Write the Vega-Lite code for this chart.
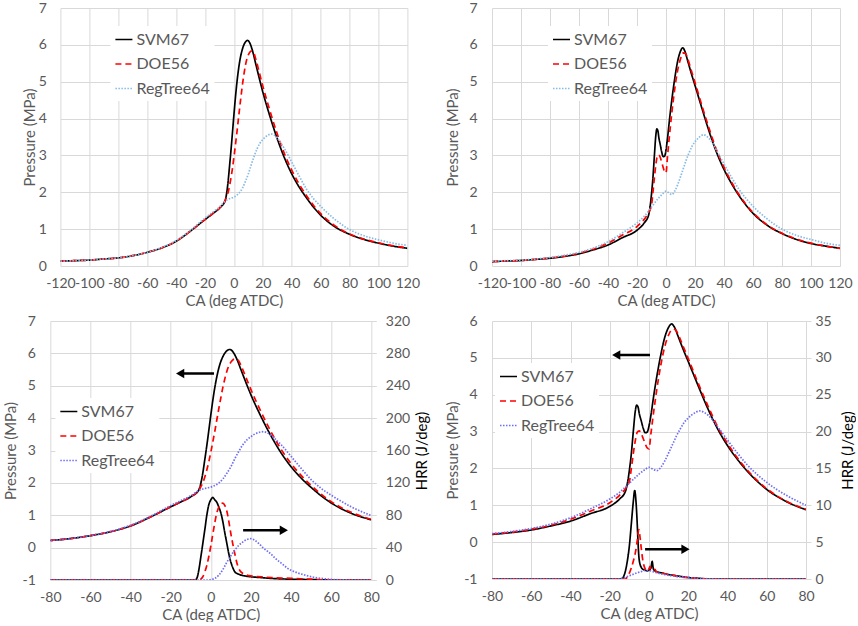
{
 "$schema": "https://vega.github.io/schema/vega-lite/v6.json",
 "padding": {"left": 3, "top": 1, "right": 0, "bottom": 0},
 "background": "white",
 "config": {
  "font": "Lato",
  "view": {"stroke": null},
  "axis": {"labelFontSize": 14, "titleFontSize": 15, "labelColor": "#595959", "titleColor": "#595959", "gridColor": "#d9d9d9", "gridWidth": 1, "domain": false, "ticks": false, "titleFontWeight": "normal", "labelFlush": false, "labelOverlap": false, "labelFont": "Lato", "titleFont": "Lato"},
  "legend": {"labelFontSize": 16, "labelColor": "#595959", "labelFont": "Lato", "symbolType": "stroke", "symbolSize": 289, "fillColor": "white", "padding": 4, "rowPadding": 6.5, "labelOffset": 3}
 },
 "datasets": {
  "pressA": [
   {"ca":-120,"model":"SVM67","p":0.13},{"ca":-110,"model":"SVM67","p":0.145},{"ca":-100,"model":"SVM67","p":0.16},{"ca":-90,"model":"SVM67","p":0.19},{"ca":-80,"model":"SVM67","p":0.22},{"ca":-70,"model":"SVM67","p":0.28},{"ca":-60,"model":"SVM67","p":0.37},{"ca":-50,"model":"SVM67","p":0.49},{"ca":-40,"model":"SVM67","p":0.67},{"ca":-30,"model":"SVM67","p":0.95},{"ca":-20,"model":"SVM67","p":1.26},{"ca":-15,"model":"SVM67","p":1.41},{"ca":-10,"model":"SVM67","p":1.57},{"ca":-6,"model":"SVM67","p":1.78},{"ca":-5,"model":"SVM67","p":1.98},{"ca":-4,"model":"SVM67","p":2.3},{"ca":-3,"model":"SVM67","p":2.72},{"ca":-2,"model":"SVM67","p":3.15},{"ca":-1,"model":"SVM67","p":3.62},{"ca":0,"model":"SVM67","p":4.1},{"ca":1,"model":"SVM67","p":4.55},{"ca":2,"model":"SVM67","p":4.95},{"ca":3,"model":"SVM67","p":5.28},{"ca":4,"model":"SVM67","p":5.55},{"ca":6,"model":"SVM67","p":5.9},{"ca":8,"model":"SVM67","p":6.08},{"ca":9.5,"model":"SVM67","p":6.12},{"ca":11,"model":"SVM67","p":6.05},{"ca":13,"model":"SVM67","p":5.82},{"ca":15,"model":"SVM67","p":5.5},{"ca":17.5,"model":"SVM67","p":5.1},{"ca":20,"model":"SVM67","p":4.72},{"ca":25,"model":"SVM67","p":4.05},{"ca":30,"model":"SVM67","p":3.45},{"ca":35,"model":"SVM67","p":2.93},{"ca":40,"model":"SVM67","p":2.5},{"ca":45,"model":"SVM67","p":2.15},{"ca":50,"model":"SVM67","p":1.86},{"ca":55,"model":"SVM67","p":1.6},{"ca":60,"model":"SVM67","p":1.38},{"ca":70,"model":"SVM67","p":1.06},{"ca":80,"model":"SVM67","p":0.86},{"ca":90,"model":"SVM67","p":0.72},{"ca":100,"model":"SVM67","p":0.62},{"ca":110,"model":"SVM67","p":0.54},{"ca":120,"model":"SVM67","p":0.48},
   {"ca":-120,"model":"DOE56","p":0.13},{"ca":-110,"model":"DOE56","p":0.145},{"ca":-100,"model":"DOE56","p":0.16},{"ca":-90,"model":"DOE56","p":0.19},{"ca":-80,"model":"DOE56","p":0.22},{"ca":-70,"model":"DOE56","p":0.28},{"ca":-60,"model":"DOE56","p":0.37},{"ca":-50,"model":"DOE56","p":0.49},{"ca":-40,"model":"DOE56","p":0.67},{"ca":-30,"model":"DOE56","p":0.95},{"ca":-20,"model":"DOE56","p":1.26},{"ca":-15,"model":"DOE56","p":1.41},{"ca":-10,"model":"DOE56","p":1.57},{"ca":-6,"model":"DOE56","p":1.78},{"ca":-5,"model":"DOE56","p":1.88},{"ca":-4,"model":"DOE56","p":2.0},{"ca":-3,"model":"DOE56","p":2.18},{"ca":-2,"model":"DOE56","p":2.4},{"ca":-1,"model":"DOE56","p":2.65},{"ca":0,"model":"DOE56","p":2.95},{"ca":1,"model":"DOE56","p":3.27},{"ca":2,"model":"DOE56","p":3.6},{"ca":3,"model":"DOE56","p":3.95},{"ca":4,"model":"DOE56","p":4.3},{"ca":5,"model":"DOE56","p":4.63},{"ca":6,"model":"DOE56","p":4.95},{"ca":7,"model":"DOE56","p":5.22},{"ca":8,"model":"DOE56","p":5.45},{"ca":9,"model":"DOE56","p":5.62},{"ca":10,"model":"DOE56","p":5.73},{"ca":11,"model":"DOE56","p":5.8},{"ca":12,"model":"DOE56","p":5.83},{"ca":13.5,"model":"DOE56","p":5.8},{"ca":15,"model":"DOE56","p":5.63},{"ca":17.5,"model":"DOE56","p":5.26},{"ca":20,"model":"DOE56","p":4.88},{"ca":25,"model":"DOE56","p":4.2},{"ca":30,"model":"DOE56","p":3.58},{"ca":35,"model":"DOE56","p":3.04},{"ca":40,"model":"DOE56","p":2.6},{"ca":45,"model":"DOE56","p":2.23},{"ca":50,"model":"DOE56","p":1.92},{"ca":55,"model":"DOE56","p":1.65},{"ca":60,"model":"DOE56","p":1.42},{"ca":70,"model":"DOE56","p":1.09},{"ca":80,"model":"DOE56","p":0.87},{"ca":90,"model":"DOE56","p":0.73},{"ca":100,"model":"DOE56","p":0.63},{"ca":110,"model":"DOE56","p":0.55},{"ca":120,"model":"DOE56","p":0.49},
   {"ca":-120,"model":"RegTree64","p":0.13},{"ca":-110,"model":"RegTree64","p":0.145},{"ca":-100,"model":"RegTree64","p":0.16},{"ca":-90,"model":"RegTree64","p":0.19},{"ca":-80,"model":"RegTree64","p":0.22},{"ca":-70,"model":"RegTree64","p":0.28},{"ca":-60,"model":"RegTree64","p":0.37},{"ca":-50,"model":"RegTree64","p":0.5},{"ca":-40,"model":"RegTree64","p":0.69},{"ca":-30,"model":"RegTree64","p":0.97},{"ca":-20,"model":"RegTree64","p":1.3},{"ca":-15,"model":"RegTree64","p":1.45},{"ca":-10,"model":"RegTree64","p":1.6},{"ca":-6,"model":"RegTree64","p":1.76},{"ca":-4,"model":"RegTree64","p":1.81},{"ca":-2,"model":"RegTree64","p":1.84},{"ca":0,"model":"RegTree64","p":1.87},{"ca":2,"model":"RegTree64","p":1.92},{"ca":4,"model":"RegTree64","p":2.0},{"ca":6,"model":"RegTree64","p":2.12},{"ca":8,"model":"RegTree64","p":2.3},{"ca":10,"model":"RegTree64","p":2.5},{"ca":12,"model":"RegTree64","p":2.75},{"ca":14,"model":"RegTree64","p":2.98},{"ca":16,"model":"RegTree64","p":3.18},{"ca":18,"model":"RegTree64","p":3.33},{"ca":20,"model":"RegTree64","p":3.43},{"ca":22,"model":"RegTree64","p":3.51},{"ca":24,"model":"RegTree64","p":3.56},{"ca":26,"model":"RegTree64","p":3.58},{"ca":28,"model":"RegTree64","p":3.55},{"ca":30,"model":"RegTree64","p":3.47},{"ca":32,"model":"RegTree64","p":3.36},{"ca":35,"model":"RegTree64","p":3.18},{"ca":40,"model":"RegTree64","p":2.82},{"ca":45,"model":"RegTree64","p":2.45},{"ca":50,"model":"RegTree64","p":2.1},{"ca":55,"model":"RegTree64","p":1.83},{"ca":60,"model":"RegTree64","p":1.62},{"ca":70,"model":"RegTree64","p":1.26},{"ca":80,"model":"RegTree64","p":0.99},{"ca":90,"model":"RegTree64","p":0.82},{"ca":100,"model":"RegTree64","p":0.71},{"ca":110,"model":"RegTree64","p":0.62},{"ca":120,"model":"RegTree64","p":0.56}
  ],
  "pressB": [
   {"ca":-120,"model":"SVM67","p":0.12},{"ca":-110,"model":"SVM67","p":0.135},{"ca":-100,"model":"SVM67","p":0.15},{"ca":-90,"model":"SVM67","p":0.18},{"ca":-80,"model":"SVM67","p":0.21},{"ca":-70,"model":"SVM67","p":0.26},{"ca":-60,"model":"SVM67","p":0.33},{"ca":-50,"model":"SVM67","p":0.44},{"ca":-40,"model":"SVM67","p":0.57},{"ca":-30,"model":"SVM67","p":0.77},{"ca":-20,"model":"SVM67","p":0.97},{"ca":-15,"model":"SVM67","p":1.17},{"ca":-12,"model":"SVM67","p":1.38},{"ca":-11,"model":"SVM67","p":1.6},{"ca":-10,"model":"SVM67","p":1.95},{"ca":-9,"model":"SVM67","p":2.4},{"ca":-8,"model":"SVM67","p":3.0},{"ca":-7,"model":"SVM67","p":3.55},{"ca":-6.3,"model":"SVM67","p":3.72},{"ca":-5.5,"model":"SVM67","p":3.65},{"ca":-5,"model":"SVM67","p":3.5},{"ca":-4,"model":"SVM67","p":3.3},{"ca":-3,"model":"SVM67","p":3.1},{"ca":-2,"model":"SVM67","p":2.97},{"ca":-1,"model":"SVM67","p":2.98},{"ca":0,"model":"SVM67","p":3.15},{"ca":1,"model":"SVM67","p":3.45},{"ca":2,"model":"SVM67","p":3.82},{"ca":3,"model":"SVM67","p":4.18},{"ca":4,"model":"SVM67","p":4.5},{"ca":6,"model":"SVM67","p":5.08},{"ca":8,"model":"SVM67","p":5.55},{"ca":10,"model":"SVM67","p":5.83},{"ca":11.5,"model":"SVM67","p":5.92},{"ca":13,"model":"SVM67","p":5.83},{"ca":15,"model":"SVM67","p":5.56},{"ca":17.5,"model":"SVM67","p":5.22},{"ca":20,"model":"SVM67","p":4.9},{"ca":25,"model":"SVM67","p":4.25},{"ca":30,"model":"SVM67","p":3.62},{"ca":35,"model":"SVM67","p":3.07},{"ca":40,"model":"SVM67","p":2.62},{"ca":45,"model":"SVM67","p":2.25},{"ca":50,"model":"SVM67","p":1.93},{"ca":55,"model":"SVM67","p":1.66},{"ca":60,"model":"SVM67","p":1.43},{"ca":70,"model":"SVM67","p":1.1},{"ca":80,"model":"SVM67","p":0.88},{"ca":90,"model":"SVM67","p":0.72},{"ca":100,"model":"SVM67","p":0.61},{"ca":110,"model":"SVM67","p":0.54},{"ca":120,"model":"SVM67","p":0.48},
   {"ca":-120,"model":"DOE56","p":0.12},{"ca":-110,"model":"DOE56","p":0.135},{"ca":-100,"model":"DOE56","p":0.15},{"ca":-90,"model":"DOE56","p":0.18},{"ca":-80,"model":"DOE56","p":0.22},{"ca":-70,"model":"DOE56","p":0.27},{"ca":-60,"model":"DOE56","p":0.35},{"ca":-50,"model":"DOE56","p":0.46},{"ca":-40,"model":"DOE56","p":0.62},{"ca":-30,"model":"DOE56","p":0.84},{"ca":-20,"model":"DOE56","p":1.07},{"ca":-15,"model":"DOE56","p":1.27},{"ca":-12,"model":"DOE56","p":1.45},{"ca":-10,"model":"DOE56","p":1.65},{"ca":-9,"model":"DOE56","p":2.0},{"ca":-8,"model":"DOE56","p":2.4},{"ca":-7,"model":"DOE56","p":2.75},{"ca":-6,"model":"DOE56","p":2.98},{"ca":-5,"model":"DOE56","p":3.02},{"ca":-4,"model":"DOE56","p":2.95},{"ca":-3,"model":"DOE56","p":2.82},{"ca":-2,"model":"DOE56","p":2.68},{"ca":-1,"model":"DOE56","p":2.56},{"ca":0,"model":"DOE56","p":2.53},{"ca":1,"model":"DOE56","p":2.95},{"ca":2,"model":"DOE56","p":3.38},{"ca":3,"model":"DOE56","p":3.78},{"ca":4,"model":"DOE56","p":4.15},{"ca":6,"model":"DOE56","p":4.8},{"ca":8,"model":"DOE56","p":5.3},{"ca":10,"model":"DOE56","p":5.62},{"ca":12,"model":"DOE56","p":5.78},{"ca":13.5,"model":"DOE56","p":5.76},{"ca":15,"model":"DOE56","p":5.62},{"ca":17.5,"model":"DOE56","p":5.3},{"ca":20,"model":"DOE56","p":4.98},{"ca":25,"model":"DOE56","p":4.32},{"ca":30,"model":"DOE56","p":3.7},{"ca":35,"model":"DOE56","p":3.13},{"ca":40,"model":"DOE56","p":2.68},{"ca":45,"model":"DOE56","p":2.29},{"ca":50,"model":"DOE56","p":1.96},{"ca":55,"model":"DOE56","p":1.68},{"ca":60,"model":"DOE56","p":1.45},{"ca":70,"model":"DOE56","p":1.11},{"ca":80,"model":"DOE56","p":0.89},{"ca":90,"model":"DOE56","p":0.73},{"ca":100,"model":"DOE56","p":0.62},{"ca":110,"model":"DOE56","p":0.54},{"ca":120,"model":"DOE56","p":0.48},
   {"ca":-120,"model":"RegTree64","p":0.13},{"ca":-110,"model":"RegTree64","p":0.145},{"ca":-100,"model":"RegTree64","p":0.16},{"ca":-90,"model":"RegTree64","p":0.19},{"ca":-80,"model":"RegTree64","p":0.23},{"ca":-70,"model":"RegTree64","p":0.29},{"ca":-60,"model":"RegTree64","p":0.37},{"ca":-50,"model":"RegTree64","p":0.49},{"ca":-40,"model":"RegTree64","p":0.66},{"ca":-30,"model":"RegTree64","p":0.9},{"ca":-20,"model":"RegTree64","p":1.17},{"ca":-15,"model":"RegTree64","p":1.35},{"ca":-10,"model":"RegTree64","p":1.6},{"ca":-5,"model":"RegTree64","p":1.85},{"ca":-2,"model":"RegTree64","p":1.97},{"ca":0,"model":"RegTree64","p":2.03},{"ca":2,"model":"RegTree64","p":1.98},{"ca":4,"model":"RegTree64","p":1.94},{"ca":6,"model":"RegTree64","p":2.03},{"ca":8,"model":"RegTree64","p":2.2},{"ca":10,"model":"RegTree64","p":2.42},{"ca":12,"model":"RegTree64","p":2.65},{"ca":14,"model":"RegTree64","p":2.88},{"ca":16,"model":"RegTree64","p":3.08},{"ca":18,"model":"RegTree64","p":3.25},{"ca":20,"model":"RegTree64","p":3.37},{"ca":22,"model":"RegTree64","p":3.46},{"ca":24,"model":"RegTree64","p":3.53},{"ca":26,"model":"RegTree64","p":3.56},{"ca":28,"model":"RegTree64","p":3.52},{"ca":30,"model":"RegTree64","p":3.45},{"ca":32,"model":"RegTree64","p":3.34},{"ca":35,"model":"RegTree64","p":3.13},{"ca":40,"model":"RegTree64","p":2.77},{"ca":45,"model":"RegTree64","p":2.42},{"ca":50,"model":"RegTree64","p":2.1},{"ca":55,"model":"RegTree64","p":1.84},{"ca":60,"model":"RegTree64","p":1.62},{"ca":70,"model":"RegTree64","p":1.27},{"ca":80,"model":"RegTree64","p":1.0},{"ca":90,"model":"RegTree64","p":0.83},{"ca":100,"model":"RegTree64","p":0.72},{"ca":110,"model":"RegTree64","p":0.62},{"ca":120,"model":"RegTree64","p":0.56}
  ],
  "hrrA": [
   {"ca":-80,"model":"SVM67","hrr":0},{"ca":-8,"model":"SVM67","hrr":0},{"ca":-7,"model":"SVM67","hrr":2},{"ca":-6,"model":"SVM67","hrr":12},{"ca":-5,"model":"SVM67","hrr":28},{"ca":-4,"model":"SVM67","hrr":45},{"ca":-3,"model":"SVM67","hrr":62},{"ca":-2,"model":"SVM67","hrr":80},{"ca":-1,"model":"SVM67","hrr":93},{"ca":0,"model":"SVM67","hrr":99},{"ca":1,"model":"SVM67","hrr":102},{"ca":2,"model":"SVM67","hrr":99},{"ca":3,"model":"SVM67","hrr":96},{"ca":4,"model":"SVM67","hrr":90},{"ca":5,"model":"SVM67","hrr":83},{"ca":6,"model":"SVM67","hrr":72},{"ca":7,"model":"SVM67","hrr":58},{"ca":8,"model":"SVM67","hrr":45},{"ca":9,"model":"SVM67","hrr":32},{"ca":10,"model":"SVM67","hrr":22},{"ca":11,"model":"SVM67","hrr":15},{"ca":12,"model":"SVM67","hrr":10},{"ca":14,"model":"SVM67","hrr":7},{"ca":17,"model":"SVM67","hrr":5},{"ca":20,"model":"SVM67","hrr":4},{"ca":25,"model":"SVM67","hrr":3},{"ca":30,"model":"SVM67","hrr":2},{"ca":40,"model":"SVM67","hrr":1},{"ca":50,"model":"SVM67","hrr":0.5},{"ca":60,"model":"SVM67","hrr":0},{"ca":80,"model":"SVM67","hrr":0},
   {"ca":-80,"model":"DOE56","hrr":0},{"ca":-6,"model":"DOE56","hrr":0},{"ca":-5,"model":"DOE56","hrr":1},{"ca":-4,"model":"DOE56","hrr":4},{"ca":-3,"model":"DOE56","hrr":10},{"ca":-2,"model":"DOE56","hrr":18},{"ca":-1,"model":"DOE56","hrr":29},{"ca":0,"model":"DOE56","hrr":42},{"ca":1,"model":"DOE56","hrr":57},{"ca":2,"model":"DOE56","hrr":71},{"ca":3,"model":"DOE56","hrr":83},{"ca":4,"model":"DOE56","hrr":90},{"ca":5,"model":"DOE56","hrr":94},{"ca":6,"model":"DOE56","hrr":95},{"ca":7,"model":"DOE56","hrr":92},{"ca":8,"model":"DOE56","hrr":85},{"ca":9,"model":"DOE56","hrr":72},{"ca":10,"model":"DOE56","hrr":57},{"ca":11,"model":"DOE56","hrr":44},{"ca":12,"model":"DOE56","hrr":32},{"ca":13,"model":"DOE56","hrr":21},{"ca":14,"model":"DOE56","hrr":14},{"ca":15,"model":"DOE56","hrr":10},{"ca":17,"model":"DOE56","hrr":7},{"ca":20,"model":"DOE56","hrr":5},{"ca":25,"model":"DOE56","hrr":4},{"ca":30,"model":"DOE56","hrr":3},{"ca":40,"model":"DOE56","hrr":2},{"ca":50,"model":"DOE56","hrr":1},{"ca":60,"model":"DOE56","hrr":0},{"ca":80,"model":"DOE56","hrr":0},
   {"ca":-80,"model":"RegTree64","hrr":0},{"ca":-2,"model":"RegTree64","hrr":0},{"ca":0,"model":"RegTree64","hrr":0.5},{"ca":2,"model":"RegTree64","hrr":2},{"ca":4,"model":"RegTree64","hrr":6},{"ca":6,"model":"RegTree64","hrr":13},{"ca":8,"model":"RegTree64","hrr":22},{"ca":10,"model":"RegTree64","hrr":30},{"ca":12,"model":"RegTree64","hrr":37},{"ca":14,"model":"RegTree64","hrr":43},{"ca":16,"model":"RegTree64","hrr":47},{"ca":18,"model":"RegTree64","hrr":50},{"ca":20,"model":"RegTree64","hrr":51},{"ca":22,"model":"RegTree64","hrr":49},{"ca":24,"model":"RegTree64","hrr":45},{"ca":26,"model":"RegTree64","hrr":40},{"ca":28,"model":"RegTree64","hrr":36},{"ca":30,"model":"RegTree64","hrr":32},{"ca":32,"model":"RegTree64","hrr":27},{"ca":34,"model":"RegTree64","hrr":23},{"ca":36,"model":"RegTree64","hrr":19},{"ca":38,"model":"RegTree64","hrr":15},{"ca":40,"model":"RegTree64","hrr":12},{"ca":43,"model":"RegTree64","hrr":9},{"ca":47,"model":"RegTree64","hrr":6},{"ca":52,"model":"RegTree64","hrr":3},{"ca":57,"model":"RegTree64","hrr":1.5},{"ca":62,"model":"RegTree64","hrr":0.5},{"ca":70,"model":"RegTree64","hrr":0},{"ca":80,"model":"RegTree64","hrr":0}
  ],
  "hrrB": [
   {"ca":-80,"model":"SVM67","hrr":0},{"ca":-14,"model":"SVM67","hrr":0},{"ca":-13,"model":"SVM67","hrr":0.3},{"ca":-12,"model":"SVM67","hrr":1.1},{"ca":-11,"model":"SVM67","hrr":2.5},{"ca":-10,"model":"SVM67","hrr":4.5},{"ca":-9,"model":"SVM67","hrr":7.5},{"ca":-8,"model":"SVM67","hrr":10.5},{"ca":-7.3,"model":"SVM67","hrr":12.0},{"ca":-6.5,"model":"SVM67","hrr":10},{"ca":-6,"model":"SVM67","hrr":7.5},{"ca":-5.5,"model":"SVM67","hrr":4.5},{"ca":-5,"model":"SVM67","hrr":2.6},{"ca":-4,"model":"SVM67","hrr":1.6},{"ca":-3,"model":"SVM67","hrr":1.3},{"ca":-2,"model":"SVM67","hrr":1.2},{"ca":-1,"model":"SVM67","hrr":1.1},{"ca":0,"model":"SVM67","hrr":1.2},{"ca":1,"model":"SVM67","hrr":1.5},{"ca":1.6,"model":"SVM67","hrr":2.4},{"ca":2.2,"model":"SVM67","hrr":1.4},{"ca":3,"model":"SVM67","hrr":1.1},{"ca":5,"model":"SVM67","hrr":0.9},{"ca":7,"model":"SVM67","hrr":0.8},{"ca":10,"model":"SVM67","hrr":0.6},{"ca":15,"model":"SVM67","hrr":0.4},{"ca":20,"model":"SVM67","hrr":0.2},{"ca":25,"model":"SVM67","hrr":0.1},{"ca":30,"model":"SVM67","hrr":0},{"ca":80,"model":"SVM67","hrr":0},
   {"ca":-80,"model":"DOE56","hrr":0},{"ca":-12,"model":"DOE56","hrr":0},{"ca":-11,"model":"DOE56","hrr":0.3},{"ca":-10,"model":"DOE56","hrr":0.8},{"ca":-9,"model":"DOE56","hrr":1.5},{"ca":-8,"model":"DOE56","hrr":2.4},{"ca":-7,"model":"DOE56","hrr":3.5},{"ca":-6,"model":"DOE56","hrr":5.2},{"ca":-5.2,"model":"DOE56","hrr":6.7},{"ca":-4.5,"model":"DOE56","hrr":5.5},{"ca":-4,"model":"DOE56","hrr":4.3},{"ca":-3,"model":"DOE56","hrr":2.3},{"ca":-2,"model":"DOE56","hrr":1.4},{"ca":-1,"model":"DOE56","hrr":1.1},{"ca":0,"model":"DOE56","hrr":1.4},{"ca":0.5,"model":"DOE56","hrr":1.7},{"ca":1,"model":"DOE56","hrr":1.3},{"ca":2,"model":"DOE56","hrr":1.2},{"ca":3,"model":"DOE56","hrr":1.3},{"ca":4,"model":"DOE56","hrr":0.9},{"ca":6,"model":"DOE56","hrr":0.9},{"ca":8,"model":"DOE56","hrr":0.7},{"ca":10,"model":"DOE56","hrr":0.6},{"ca":13,"model":"DOE56","hrr":0.5},{"ca":15,"model":"DOE56","hrr":0.3},{"ca":20,"model":"DOE56","hrr":0.2},{"ca":25,"model":"DOE56","hrr":0.1},{"ca":30,"model":"DOE56","hrr":0},{"ca":80,"model":"DOE56","hrr":0},
   {"ca":-80,"model":"RegTree64","hrr":0},{"ca":-16,"model":"RegTree64","hrr":0},{"ca":-14,"model":"RegTree64","hrr":0.1},{"ca":-12,"model":"RegTree64","hrr":0.25},{"ca":-10,"model":"RegTree64","hrr":0.45},{"ca":-8,"model":"RegTree64","hrr":0.65},{"ca":-6,"model":"RegTree64","hrr":0.85},{"ca":-4,"model":"RegTree64","hrr":1.0},{"ca":-2,"model":"RegTree64","hrr":1.15},{"ca":0,"model":"RegTree64","hrr":1.15},{"ca":2,"model":"RegTree64","hrr":1.0},{"ca":4,"model":"RegTree64","hrr":0.85},{"ca":6,"model":"RegTree64","hrr":0.7},{"ca":8,"model":"RegTree64","hrr":0.6},{"ca":10,"model":"RegTree64","hrr":0.5},{"ca":14,"model":"RegTree64","hrr":0.35},{"ca":18,"model":"RegTree64","hrr":0.25},{"ca":22,"model":"RegTree64","hrr":0.15},{"ca":26,"model":"RegTree64","hrr":0.08},{"ca":30,"model":"RegTree64","hrr":0.03},{"ca":35,"model":"RegTree64","hrr":0},{"ca":80,"model":"RegTree64","hrr":0}
  ],
  "arrowsA": [{"ca":1.6,"ca2":-15.3,"p":5.38},{"ca":16.1,"ca2":36.4,"p":0.535}],
  "headsA": [{"ca":-15.3,"p":5.38,"dir":"left"},{"ca":36.4,"p":0.535,"dir":"right"}],
  "arrowsB": [{"ca":0.5,"ca2":-16.7,"p":5.08},{"ca":-2.0,"ca2":18.6,"p":-0.19}],
  "headsB": [{"ca":-16.7,"p":5.08,"dir":"left"},{"ca":18.6,"p":-0.19,"dir":"right"}]
 },
 "spacing": 15,
 "resolve": {"scale": {"color": "independent", "strokeDash": "independent"}, "legend": {"color": "independent", "strokeDash": "independent"}},
 "hconcat": [
  {
   "vconcat": [
    {
     "width": 347, "height": 258,
     "data": {"name": "pressA"},
     "mark": {"type": "line", "interpolate": "monotone", "strokeWidth": 1.7, "clip": true},
     "encoding": {
      "x": {"field": "ca", "type": "quantitative", "scale": {"domain": [-120, 120], "nice": false}, "axis": {"values": [-120,-100,-80,-60,-40,-20,0,20,40,60,80,100,120], "labelExpr": "'' + datum.value", "labelOverlap": false, "title": "CA (deg ATDC)", "labelPadding": 10, "titlePadding": 3}},
      "y": {"field": "p", "type": "quantitative", "scale": {"domain": [0, 7], "nice": false}, "axis": {"values": [0,1,2,3,4,5,6,7], "labelExpr": "'' + datum.value", "labelOverlap": false, "title": "Pressure (MPa)", "labelPadding": 14, "titlePadding": 1}},
      "color": {"field": "model", "type": "nominal", "scale": {"domain": ["SVM67","DOE56","RegTree64"], "range": ["#000000","#ff0000","#86bbe6"]}, "legend": {"orient": "none", "legendX": 50, "legendY": 18, "title": null}},
      "strokeDash": {"field": "model", "type": "nominal", "scale": {"domain": ["SVM67","DOE56","RegTree64"], "range": [[1,0],[6,4],[1.5,1.5]]}, "legend": {"orient": "none", "legendX": 50, "legendY": 18, "title": null}}
     }
    },
    {
     "width": 321, "height": 259,
     "layer": [
      {"layer": [
       {"data": {"name": "pressA"}, "transform": [{"filter": "datum.ca >= -80 && datum.ca <= 80"}],
        "mark": {"type": "line", "interpolate": "monotone", "strokeWidth": 1.7, "clip": true},
        "encoding": {
         "x": {"field": "ca", "type": "quantitative", "scale": {"domain": [-80, 80], "nice": false}, "axis": {"values": [-80,-60,-40,-20,0,20,40,60,80], "labelExpr": "'' + datum.value", "labelOverlap": false, "title": "CA (deg ATDC)", "labelPadding": 10, "titlePadding": 3}},
         "y": {"field": "p", "type": "quantitative", "scale": {"domain": [-1, 7], "nice": false}, "axis": {"values": [-1,0,1,2,3,4,5,6,7], "labelExpr": "'' + datum.value", "labelOverlap": false, "title": "Pressure (MPa)", "labelPadding": 15, "titlePadding": 3}},
         "color": {"field": "model", "type": "nominal", "scale": {"domain": ["SVM67","DOE56","RegTree64"], "range": ["#000000","#ff0000","#6e6ef5"]}, "legend": {"orient": "none", "legendX": 5, "legendY": 77, "title": null}},
         "strokeDash": {"field": "model", "type": "nominal", "scale": {"domain": ["SVM67","DOE56","RegTree64"], "range": [[1,0],[6,4],[1.5,1.5]]}, "legend": {"orient": "none", "legendX": 5, "legendY": 77, "title": null}}
        }},
       {"data": {"name": "arrowsA"}, "mark": {"type": "rule", "color": "black", "strokeWidth": 2.5},
        "encoding": {
         "x": {"field": "ca", "type": "quantitative", "scale": {"domain": [-80, 80], "nice": false}, "axis": {"values": [-80,-60,-40,-20,0,20,40,60,80], "labelExpr": "'' + datum.value", "labelOverlap": false, "title": "CA (deg ATDC)", "labelPadding": 10, "titlePadding": 3}},
         "x2": {"field": "ca2"},
         "y": {"field": "p", "type": "quantitative", "scale": {"domain": [-1, 7], "nice": false}, "axis": {"values": [-1,0,1,2,3,4,5,6,7], "labelExpr": "'' + datum.value", "labelOverlap": false, "title": "Pressure (MPa)", "labelPadding": 15, "titlePadding": 3}}}},
       {"data": {"name": "headsA"}, "mark": {"type": "point", "filled": true, "color": "black", "opacity": 1, "size": 90},
        "encoding": {
         "x": {"field": "ca", "type": "quantitative", "scale": {"domain": [-80, 80], "nice": false}, "axis": {"values": [-80,-60,-40,-20,0,20,40,60,80], "labelExpr": "'' + datum.value", "labelOverlap": false, "title": "CA (deg ATDC)", "labelPadding": 10, "titlePadding": 3}},
         "y": {"field": "p", "type": "quantitative", "scale": {"domain": [-1, 7], "nice": false}, "axis": {"values": [-1,0,1,2,3,4,5,6,7], "labelExpr": "'' + datum.value", "labelOverlap": false, "title": "Pressure (MPa)", "labelPadding": 15, "titlePadding": 3}},
         "shape": {"field": "dir", "type": "nominal", "scale": {"domain": ["left","right"], "range": ["triangle-left","triangle-right"]}, "legend": null}}}
      ]},
      {"data": {"name": "hrrA"},
       "mark": {"type": "line", "interpolate": "monotone", "strokeWidth": 1.7, "clip": true},
       "encoding": {
        "x": {"field": "ca", "type": "quantitative", "scale": {"domain": [-80, 80], "nice": false}, "axis": {"values": [-80,-60,-40,-20,0,20,40,60,80], "labelExpr": "'' + datum.value", "labelOverlap": false, "title": "CA (deg ATDC)", "labelPadding": 10, "titlePadding": 3}},
        "y": {"field": "hrr", "type": "quantitative", "scale": {"domain": [0, 320], "nice": false}, "axis": {"orient": "right", "values": [0,40,80,120,160,200,240,280,320], "labelExpr": "'' + datum.value", "labelOverlap": false, "title": "HRR (J/deg)", "titleColor": "#000000", "titleAngle": 270, "titleBaseline": "top", "grid": false, "ticks": true, "tickColor": "#d9d9d9", "tickSize": 5, "labelPadding": 9, "titlePadding": 5}},
        "color": {"field": "model", "type": "nominal", "scale": {"domain": ["SVM67","DOE56","RegTree64"], "range": ["#000000","#ff0000","#6e6ef5"]}, "legend": {"orient": "none", "legendX": 5, "legendY": 77, "title": null}},
        "strokeDash": {"field": "model", "type": "nominal", "scale": {"domain": ["SVM67","DOE56","RegTree64"], "range": [[1,0],[6,4],[1.5,1.5]]}, "legend": {"orient": "none", "legendX": 5, "legendY": 77, "title": null}}
       }}
     ],
     "resolve": {"scale": {"y": "independent"}}
    }
   ],
   "spacing": 6,
   "center": true,
   "resolve": {"scale": {"color": "independent", "strokeDash": "independent"}, "legend": {"color": "independent", "strokeDash": "independent"}}
  },
  {
   "vconcat": [
    {
     "width": 348, "height": 258,
     "data": {"name": "pressB"},
     "mark": {"type": "line", "interpolate": "monotone", "strokeWidth": 1.7, "clip": true},
     "encoding": {
      "x": {"field": "ca", "type": "quantitative", "scale": {"domain": [-120, 120], "nice": false}, "axis": {"values": [-120,-100,-80,-60,-40,-20,0,20,40,60,80,100,120], "labelExpr": "'' + datum.value", "labelOverlap": false, "title": "CA (deg ATDC)", "labelPadding": 10, "titlePadding": 3}},
      "y": {"field": "p", "type": "quantitative", "scale": {"domain": [0, 7], "nice": false}, "axis": {"values": [0,1,2,3,4,5,6,7], "labelExpr": "'' + datum.value", "labelOverlap": false, "title": "Pressure (MPa)", "labelPadding": 15, "titlePadding": 8}},
      "color": {"field": "model", "type": "nominal", "scale": {"domain": ["SVM67","DOE56","RegTree64"], "range": ["#000000","#ff0000","#86bbe6"]}, "legend": {"orient": "none", "legendX": 56, "legendY": 18, "title": null}},
      "strokeDash": {"field": "model", "type": "nominal", "scale": {"domain": ["SVM67","DOE56","RegTree64"], "range": [[1,0],[6,4],[1.5,1.5]]}, "legend": {"orient": "none", "legendX": 56, "legendY": 18, "title": null}}
     }
    },
    {
     "width": 314, "height": 258,
     "layer": [
      {"layer": [
       {"data": {"name": "pressB"}, "transform": [{"filter": "datum.ca >= -80 && datum.ca <= 80"}],
        "mark": {"type": "line", "interpolate": "monotone", "strokeWidth": 1.7, "clip": true},
        "encoding": {
         "x": {"field": "ca", "type": "quantitative", "scale": {"domain": [-80, 80], "nice": false}, "axis": {"values": [-80,-60,-40,-20,0,20,40,60,80], "labelExpr": "'' + datum.value", "labelOverlap": false, "title": "CA (deg ATDC)", "labelPadding": 10, "titlePadding": 3}},
         "y": {"field": "p", "type": "quantitative", "scale": {"domain": [-1, 6], "nice": false}, "axis": {"values": [-1,0,1,2,3,4,5,6], "labelExpr": "'' + datum.value", "labelOverlap": false, "title": "Pressure (MPa)", "labelPadding": 15, "titlePadding": 3}},
         "color": {"field": "model", "type": "nominal", "scale": {"domain": ["SVM67","DOE56","RegTree64"], "range": ["#000000","#ff0000","#6e6ef5"]}, "legend": {"orient": "none", "legendX": 3, "legendY": 42, "title": null}},
         "strokeDash": {"field": "model", "type": "nominal", "scale": {"domain": ["SVM67","DOE56","RegTree64"], "range": [[1,0],[6,4],[1.5,1.5]]}, "legend": {"orient": "none", "legendX": 3, "legendY": 42, "title": null}}
        }},
       {"data": {"name": "arrowsB"}, "mark": {"type": "rule", "color": "black", "strokeWidth": 2.5},
        "encoding": {
         "x": {"field": "ca", "type": "quantitative", "scale": {"domain": [-80, 80], "nice": false}, "axis": {"values": [-80,-60,-40,-20,0,20,40,60,80], "labelExpr": "'' + datum.value", "labelOverlap": false, "title": "CA (deg ATDC)", "labelPadding": 10, "titlePadding": 3}},
         "x2": {"field": "ca2"},
         "y": {"field": "p", "type": "quantitative", "scale": {"domain": [-1, 6], "nice": false}, "axis": {"values": [-1,0,1,2,3,4,5,6], "labelExpr": "'' + datum.value", "labelOverlap": false, "title": "Pressure (MPa)", "labelPadding": 15, "titlePadding": 3}}}},
       {"data": {"name": "headsB"}, "mark": {"type": "point", "filled": true, "color": "black", "opacity": 1, "size": 90},
        "encoding": {
         "x": {"field": "ca", "type": "quantitative", "scale": {"domain": [-80, 80], "nice": false}, "axis": {"values": [-80,-60,-40,-20,0,20,40,60,80], "labelExpr": "'' + datum.value", "labelOverlap": false, "title": "CA (deg ATDC)", "labelPadding": 10, "titlePadding": 3}},
         "y": {"field": "p", "type": "quantitative", "scale": {"domain": [-1, 6], "nice": false}, "axis": {"values": [-1,0,1,2,3,4,5,6], "labelExpr": "'' + datum.value", "labelOverlap": false, "title": "Pressure (MPa)", "labelPadding": 15, "titlePadding": 3}},
         "shape": {"field": "dir", "type": "nominal", "scale": {"domain": ["left","right"], "range": ["triangle-left","triangle-right"]}, "legend": null}}}
      ]},
      {"data": {"name": "hrrB"},
       "mark": {"type": "line", "interpolate": "monotone", "strokeWidth": 1.7, "clip": true},
       "encoding": {
        "x": {"field": "ca", "type": "quantitative", "scale": {"domain": [-80, 80], "nice": false}, "axis": {"values": [-80,-60,-40,-20,0,20,40,60,80], "labelExpr": "'' + datum.value", "labelOverlap": false, "title": "CA (deg ATDC)", "labelPadding": 10, "titlePadding": 3}},
        "y": {"field": "hrr", "type": "quantitative", "scale": {"domain": [0, 35], "nice": false}, "axis": {"orient": "right", "values": [0,5,10,15,20,25,30,35], "labelExpr": "'' + datum.value", "labelOverlap": false, "title": "HRR (J/deg)", "titleColor": "#000000", "titleAngle": 270, "titleBaseline": "top", "grid": false, "ticks": true, "tickColor": "#d9d9d9", "tickSize": 5, "labelPadding": 4, "titlePadding": 9}},
        "color": {"field": "model", "type": "nominal", "scale": {"domain": ["SVM67","DOE56","RegTree64"], "range": ["#000000","#ff0000","#6e6ef5"]}, "legend": {"orient": "none", "legendX": 3, "legendY": 42, "title": null}},
        "strokeDash": {"field": "model", "type": "nominal", "scale": {"domain": ["SVM67","DOE56","RegTree64"], "range": [[1,0],[6,4],[1.5,1.5]]}, "legend": {"orient": "none", "legendX": 3, "legendY": 42, "title": null}}
       }}
     ],
     "resolve": {"scale": {"y": "independent"}}
    }
   ],
   "spacing": 6,
   "resolve": {"scale": {"color": "independent", "strokeDash": "independent"}, "legend": {"color": "independent", "strokeDash": "independent"}}
  }
 ]
}
